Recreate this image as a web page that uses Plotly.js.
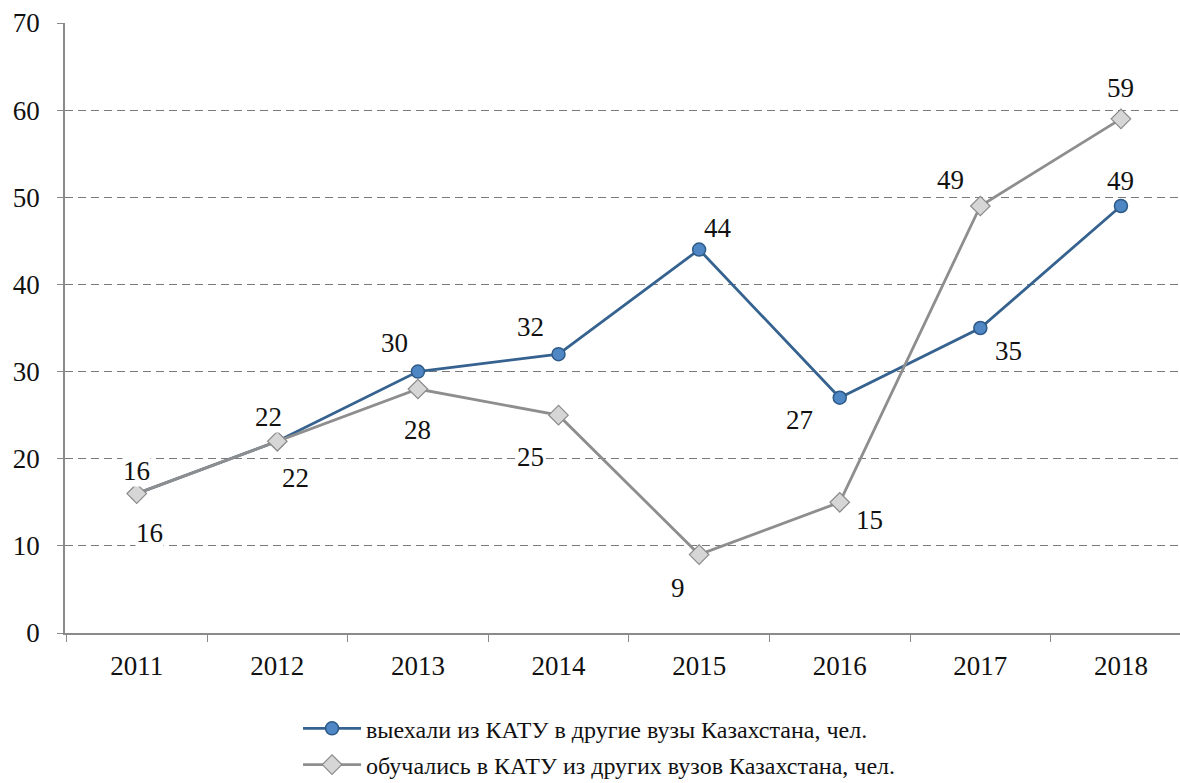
<!DOCTYPE html>
<html><head><meta charset="utf-8">
<script src="https://cdn.plot.ly/plotly-3.0.1.min.js"></script>
<style>html,body{margin:0;padding:0;background:#fff;}#chart{width:1180px;height:783px;}</style>
</head><body><div id="chart"></div>
<script>
const years = ['2011','2012','2013','2014','2015','2016','2017','2018'];
const leftValues = [16, 22, 30, 32, 44, 27, 35, 49];
const cameValues = [16, 22, 28, 25, 9, 15, 49, 59];
const seriesNames = ['выехали из КАТУ в другие вузы Казахстана, чел.', 'обучались в КАТУ из других вузов Казахстана, чел.'];
// label offsets (pixels) from each point
const leftShift = [[0,23],[-9,24],[-23,29],[-28,27],[19,22],[-40,-22],[28,-23],[0,25]];
const cameShift = [[13,-39],[18,-37],[0,-41],[-28,-42],[-21,-33],[30,-18],[-30,26],[0,31]];

const fam = 'Liberation Serif';
const traces = [
  {x: years, y: leftValues, name: seriesNames[0], type: 'scatter', mode: 'lines+markers', legendgroup: 'a',
   line: {color: '#35628F', width: 2.8}, marker: {symbol: 'circle', size: 13, color: '#4F87C4', line: {color: '#2E5A87', width: 1.5}}},
  {x: years, y: cameValues, name: seriesNames[1], type: 'scatter', mode: 'lines+markers', legendgroup: 'b',
   line: {color: '#8E8E8E', width: 2.8}, marker: {symbol: 'diamond', size: 15, color: '#D6D6D6', line: {color: '#8A8A8A', width: 1.2}}}
];
const annotations = [];
years.forEach((yr, i) => {
  annotations.push({x: i, y: leftValues[i], xref: 'x', yref: 'y', text: String(leftValues[i]), showarrow: false,
    xshift: leftShift[i][0], yshift: leftShift[i][1], font: {family: fam, size: 27, color: '#111'}, bgcolor: '#fff', borderpad: 0});
  annotations.push({x: i, y: cameValues[i], xref: 'x', yref: 'y', text: String(cameValues[i]), showarrow: false,
    xshift: cameShift[i][0], yshift: cameShift[i][1], font: {family: fam, size: 27, color: '#111'}, bgcolor: '#fff', borderpad: 0});
});
const layout = {
  width: 1180, height: 783,
  margin: {l: 65, r: 0, t: 23, b: 150, autoexpand: false},
  paper_bgcolor: '#fff', plot_bgcolor: '#fff',
  font: {family: fam, size: 27, color: '#111'},
  showlegend: true,
  legend: {orientation: 'v', x: 0.209, xanchor: 'left', yref: 'container', y: 0.098, yanchor: 'top', traceorder: 'grouped', tracegroupgap: 2,
    itemwidth: 58, font: {family: fam, size: 24, color: '#111'}},
  xaxis: {type: 'category', range: [-0.51, 7.42], tickson: 'boundaries', ticks: 'outside', ticklen: 7, tickcolor: '#8a8a8a',
    showline: true, linecolor: '#8a8a8a', linewidth: 1.5, showgrid: false, zeroline: false, ticklabelstandoff: 8,
    tickfont: {family: fam, size: 27, color: '#111'}},
  yaxis: {range: [0, 70], dtick: 10, ticks: 'outside', ticklen: 6, tickcolor: '#8a8a8a', showline: true, linecolor: '#8a8a8a', linewidth: 1.5,
    showgrid: true, gridcolor: '#7a7a7a', griddash: '8px,5px', gridwidth: 1, zeroline: false, ticklabelstandoff: 12,
    tickfont: {family: fam, size: 27, color: '#111'}},
  annotations: annotations
};
Plotly.newPlot('chart', traces, layout, {displayModeBar: false});
</script></body></html>
